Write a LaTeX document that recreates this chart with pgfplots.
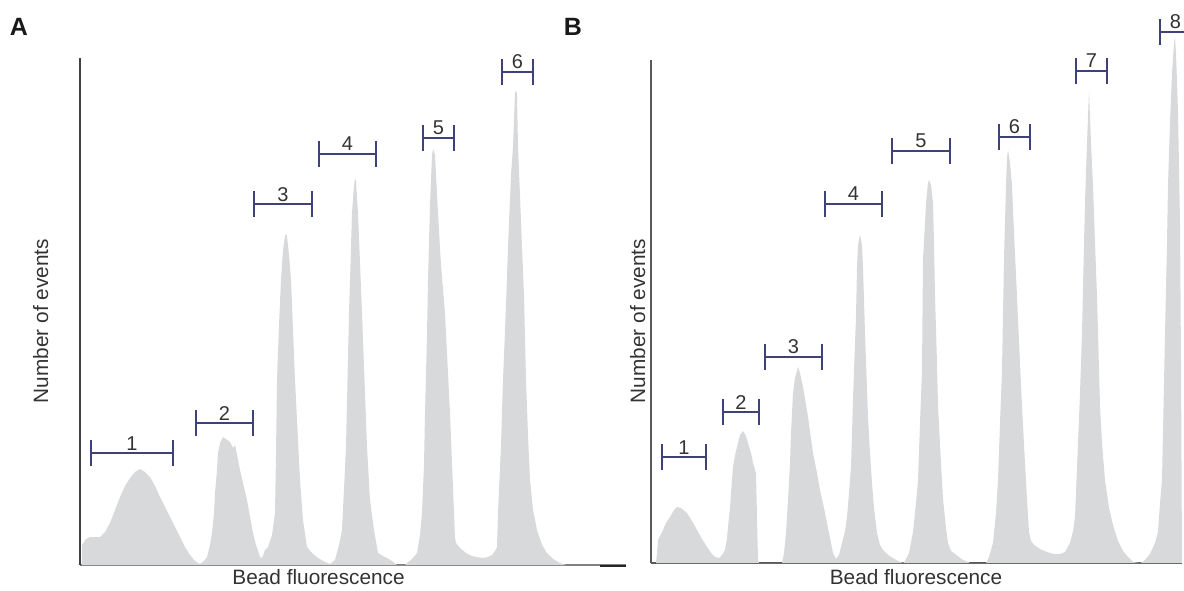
\documentclass[border=0pt]{standalone}
\usepackage{pgfplots}
\pgfplotsset{compat=1.18}
\usepackage{pgfplotstable}
\usepackage{fontspec}
\setmainfont{Liberation Sans}
\definecolor{peak}{RGB}{216,217,219}
\definecolor{brk}{RGB}{62,66,118}
\definecolor{txt}{RGB}{51,51,51}

% Panel A histogram (x in fluorescence units, y = number of events)
\pgfplotstableread{
x y
82 0
82 20
86 26
90 28
100 28
105 33
110 42
115 55
120 68
125 79
130 87
135 93
140 96
145 93
150 88
155 79
160 68
165 58
170 48
175 38
180 28
185 18
190 10
195 4
200 1
204 4
207 8
210 20
212 32
214 52
215 72
217 95
218 112
220 122
223 128
226 126
230 123
233 117
235 120
237 110
240 95
243 82
247 65
250 48
253 32
256 20
260 8
262 7
265 15
268 18
272 30
275 52
276 110
277 185
279 240
281 285
283 315
285 329
286 331
287 329
289 310
291 285
295 185
300 85
303 45
307 18
312 12
318 7
325 3
330 1
335 5
339 20
342 35
346 118
349 252
352 352
354 380
355 386
356 384
358 352
362 252
367 118
370 65
374 35
378 12
383 9
387 7
392 4
397 0
405 0
407 2
412 6
417 12
420 30
422 52
424 100
425 152
427 230
428 285
430 360
432 410
433 416
435 410
438 352
441 300
445 252
450 152
454 52
455 27
456 22
460 17
466 12
472 9
477 8
483 7
488 8
492 10
495 14
497 18
498 52
501 120
503 185
506 260
508 318
511 390
513 418
515 472
516 475
517 470
518 418
520 370
522 318
524 270
526 185
528 130
530 85
533 55
537 35
542 20
547 12
553 6
560 2
566 0
}\histA

% Panel B histogram
\pgfplotstableread{
x y
656 0
657 10
658 23
663 33
666 40
670 46
674 53
677 56
681 55
687 50
692 42
697 33
702 24
707 16
711 10
715 6
719 5
722 8
725 13
727 25
728 36
730 55
731 70
733 96
735 108
737 116
740 128
743 132
746 127
748 120
751 110
753 100
756 90
757 46
758 3
759 0
782 0
784 10
786 30
788 63
790 100
791 130
793 170
795 185
798 196
800 190
803 176
808 146
813 110
817 90
820 73
824 55
827 40
831 20
833 10
836 4
839 8
842 20
845 32
847 46
849 70
851 96
853 163
855 220
856 246
857 296
858 318
860 328
862 318
863 296
865 230
868 146
870 110
872 80
874 55
877 30
880 18
883 13
888 8
893 5
898 2
903 0
905 2
909 10
913 31
916 60
918 83
920 140
922 193
923 304
925 340
926 360
928 380
929 383
931 378
933 360
934 320
935 267
937 200
938 157
941 100
943 64
946 35
948 20
951 12
955 9
959 6
963 3
968 1
970 0
986 0
989 6
993 20
996 50
998 83
1000 140
1002 193
1004 304
1006 378
1007 405
1008 413
1010 400
1012 378
1014 330
1017 267
1020 200
1022 157
1025 100
1027 64
1029 31
1030 26
1031 22
1034 18
1040 14
1047 11
1053 9
1060 9
1065 11
1070 20
1073 32
1075 46
1078 120
1080 170
1082 230
1084 320
1085 360
1087 420
1089 472
1091 420
1093 378
1095 320
1097 267
1100 157
1102 120
1105 83
1109 55
1113 38
1118 22
1123 12
1128 6
1133 1
1140 0
1144 2
1150 9
1155 20
1158 31
1160 60
1162 83
1164 180
1165 230
1167 320
1168 378
1170 440
1172 489
1174 520
1175 526
1176 510
1178 452
1180 341
1181 200
1182 0
}\histB

% Gates (brackets): centre, height, half width
\pgfplotstableread{
x y e
132 112 41
224.5 142 28.5
283 361 29
347.5 411 28.5
438.5 427 15.5
517.5 493 15.5
}\gatesA
\pgfplotstableread{
x y e
684 106 22
741 151 18
793.5 206 28.5
853.5 359 28.5
921 412 29
1014.5 426 15.5
1091.5 492 15.5
1176 531 16
}\gatesB

\pgfplotsset{
  panel/.style={scale only axis, anchor=south west, clip=false,
    axis x line=bottom, axis y line=left,
    axis line style={-, line width=0.75pt, black!70},
    xtick=\empty, ytick=\empty, ymin=0},
  gates/.style={draw=none, mark=none,
    error bars/.cd, x dir=both, x explicit,
    error mark=|,
    error bar style={draw=brk, line width=0.55pt},
    error mark options={draw=brk, line width=0.55pt, mark size=6.5pt}},
}
\tikzset{glab/.style={txt, font=\fontsize{10}{10}\selectfont, anchor=base, inner sep=0pt},
  axlab/.style={txt, font=\fontsize{10.4}{11}\selectfont, anchor=base, inner sep=0pt}}

\begin{document}
\begin{tikzpicture}
\useasboundingbox (0,0) rectangle (592pt,295pt);

% ---------- Panel A ----------
\begin{axis}[panel, at={(40pt,12.5pt)}, width=273pt, height=253.5pt,
  xmin=80, xmax=626, ymax=507,
  x axis line style={black!50}, y axis line style={black!75}]
\addplot[fill=peak, draw=none] table[x=x, y=y] {\histA} -- cycle;
\addplot[gates] table[x=x, y=y, x error=e] {\gatesA};
\node[glab] at (axis cs:132,115) {1};
\node[glab] at (axis cs:224.5,145) {2};
\node[glab] at (axis cs:283,364) {3};
\node[glab] at (axis cs:347.5,414) {4};
\node[glab] at (axis cs:438.5,430) {5};
\node[glab] at (axis cs:517.5,496) {6};
\draw[black!85, line width=0.9pt] (axis cs:600,-0.6) -- (axis cs:626,-0.6);
\end{axis}

% ---------- Panel B ----------
\begin{axis}[panel, at={(325.5pt,13.5pt)}, width=265.5pt, height=251.5pt,
  xmin=651, xmax=1182, ymax=503,
  axis line style={black!65}]
\addplot[fill=peak, draw=none] table[x=x, y=y] {\histB} -- cycle;
\addplot[gates] table[x=x, y=y, x error=e] {\gatesB};
\node[glab] at (axis cs:684,109) {1};
\node[glab] at (axis cs:741,154) {2};
\node[glab] at (axis cs:793.5,209) {3};
\node[glab] at (axis cs:853.5,362) {4};
\node[glab] at (axis cs:921,415) {5};
\node[glab] at (axis cs:1014.5,429) {6};
\node[glab] at (axis cs:1091.5,495) {7};
\node[glab] at (axis cs:1175.5,534) {8};
\end{axis}

% ---------- Texts ----------
\node[font=\bfseries\fontsize{12.5}{13}\selectfont, black!90] at (9.5pt,281.5pt) {A};
\node[font=\bfseries\fontsize{12.5}{13}\selectfont, black!90] at (286.5pt,281.5pt) {B};
\node[axlab] at (159.3pt,2.6pt) {Bead fluorescence};
\node[axlab] at (458pt,2.6pt) {Bead fluorescence};
\node[axlab, rotate=90] at (24pt,134.5pt) {Number of events};
\node[axlab, rotate=90] at (322.5pt,134.5pt) {Number of events};
\end{tikzpicture}
\end{document}
